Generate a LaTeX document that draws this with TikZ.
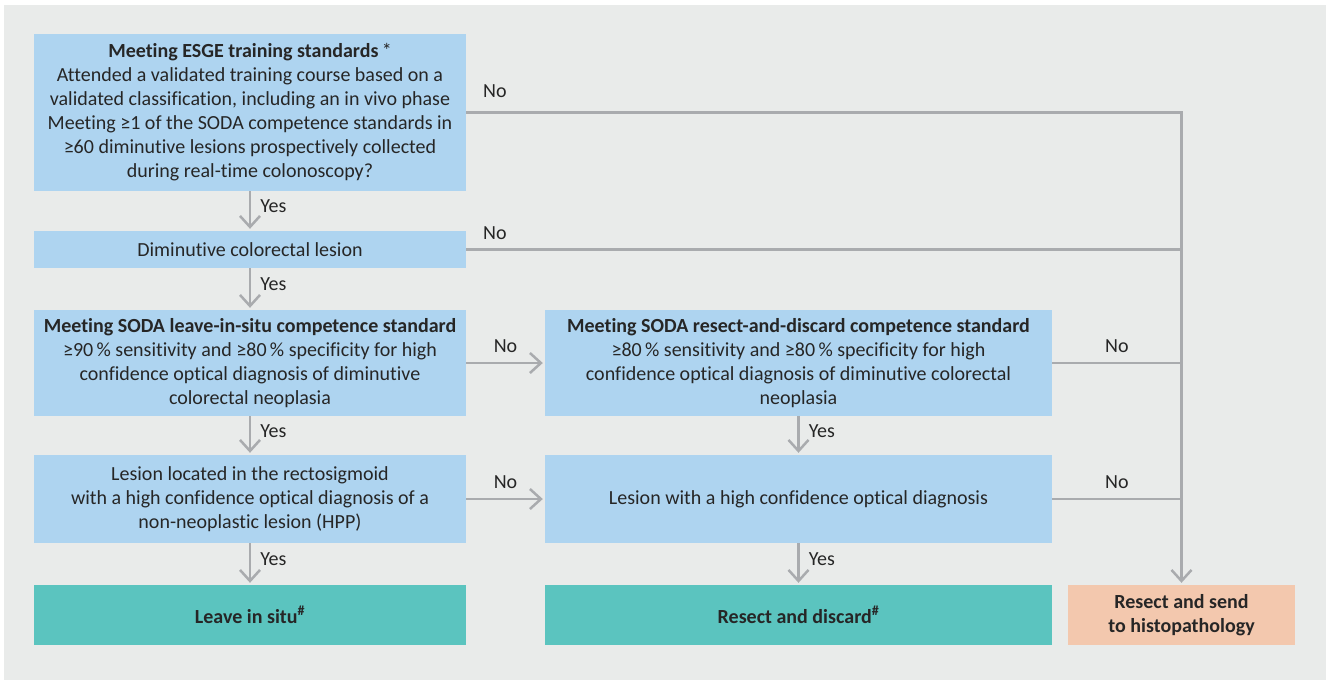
\documentclass[tikz,border=0pt]{standalone}
\usepackage{fontspec}
\setmainfont{Carlito}[Ligatures=NoCommon]
\usetikzlibrary{arrows.meta,positioning}
\definecolor{panel}{HTML}{E9EBEA}
\definecolor{qblue}{HTML}{AED4F0}
\definecolor{okteal}{HTML}{5BC4BF}
\definecolor{histo}{HTML}{F3C8AE}
\definecolor{wire}{HTML}{A9ABAE}
\definecolor{ink}{HTML}{262626}

\begin{document}
\begin{tikzpicture}[x=1pt,y=-1pt,shorten >=2pt,on grid,auto,
    >={Straight Barb[length=11pt,width=20pt]},
    every node/.style={font=\fontsize{20}{24}\selectfont,text=ink,inner sep=9pt},
    yes/.style={pos=0.38},
    box/.style={rectangle,fill=#1,align=center,inner sep=0pt},
    qbox/.style={box=qblue,minimum width=432pt},
    qwide/.style={box=qblue,minimum width=507pt},
    endbox/.style={box=okteal,minimum height=60pt,font=\fontsize{20}{24}\selectfont\bfseries},
    wireline/.style={draw=wire,line width=2.5pt}]
    \useasboundingbox (0,0) rectangle (1330,683);
    \fill[panel] (4,5) rectangle (1326,680);

    \node[qbox,minimum height=157pt] (esge) at (250,112.5)
        {\textbf{Meeting ESGE training standards}\,*\\
         Attended a validated training course based on a\\
         validated classification, including an in vivo phase\\
         Meeting ≥1 of the SODA competence standards in\\
         ≥60 diminutive lesions prospectively collected\\
         during real-time colonoscopy?};
    \node[qbox,minimum height=37pt] (dimin) [below=137pt of esge] {Diminutive colorectal lesion};
    \node[qbox,minimum height=106pt] (situ) [below=113.5pt of dimin]
        {\textbf{Meeting SODA leave-in-situ competence standard}\\
         ≥90\,\% sensitivity and ≥80\,\% specificity for high\\
         confidence optical diagnosis of diminutive\\
         colorectal neoplasia};
    \node[qbox,minimum height=88pt] (recto) [below=136pt of situ]
        {Lesion located in the rectosigmoid\\
         with a high confidence optical diagnosis of a\\
         non-neoplastic lesion (HPP)};
    \node[endbox,minimum width=432pt] (leave) [below=116pt of recto] {Leave in situ\textsuperscript{\#}};

    \node[qwide,minimum height=106pt] (discard) [right=548.5pt of situ]
        {\textbf{Meeting SODA resect-and-discard competence standard}\\
         ≥80\,\% sensitivity and ≥80\,\% specificity for high\\
         confidence optical diagnosis of diminutive colorectal\\
         neoplasia};
    \node[qwide,minimum height=88pt] (hcod) [right=548.5pt of recto]
        {Lesion with a high confidence optical diagnosis};
    \node[endbox,minimum width=507pt] (rd) [right=548.5pt of leave] {Resect and discard\textsuperscript{\#}};
    \node[endbox,fill=histo,minimum width=227pt] (send) [right=383pt of rd]
        {Resect and send\\to histopathology};

    \path[wireline,->]
    (esge) edge node[yes] {Yes} (dimin)
    (dimin) edge node[yes] {Yes} (situ)
    (situ) edge node[yes] {Yes} (recto)
    edge node {No} (discard)
    (recto) edge node[yes] {Yes} (leave)
    edge node {No} (hcod)
    (discard) edge node[yes] {Yes} (hcod)
    (hcod) edge node[yes] {Yes} (rd);

    \draw[wireline,->] (esge.east) -| node[pos=0.02,yshift=5pt] {No} (send.north);
    \draw[wireline,shorten >=0pt] (dimin.east) -- node[pos=0.04] {No} (dimin.east -| send.north);
    \draw[wireline,shorten >=0pt] (discard.east) -- node {No} (discard.east -| send.north);
    \draw[wireline,shorten >=0pt] (hcod.east) -- node {No} (hcod.east -| send.north);
\end{tikzpicture}
\end{document}
